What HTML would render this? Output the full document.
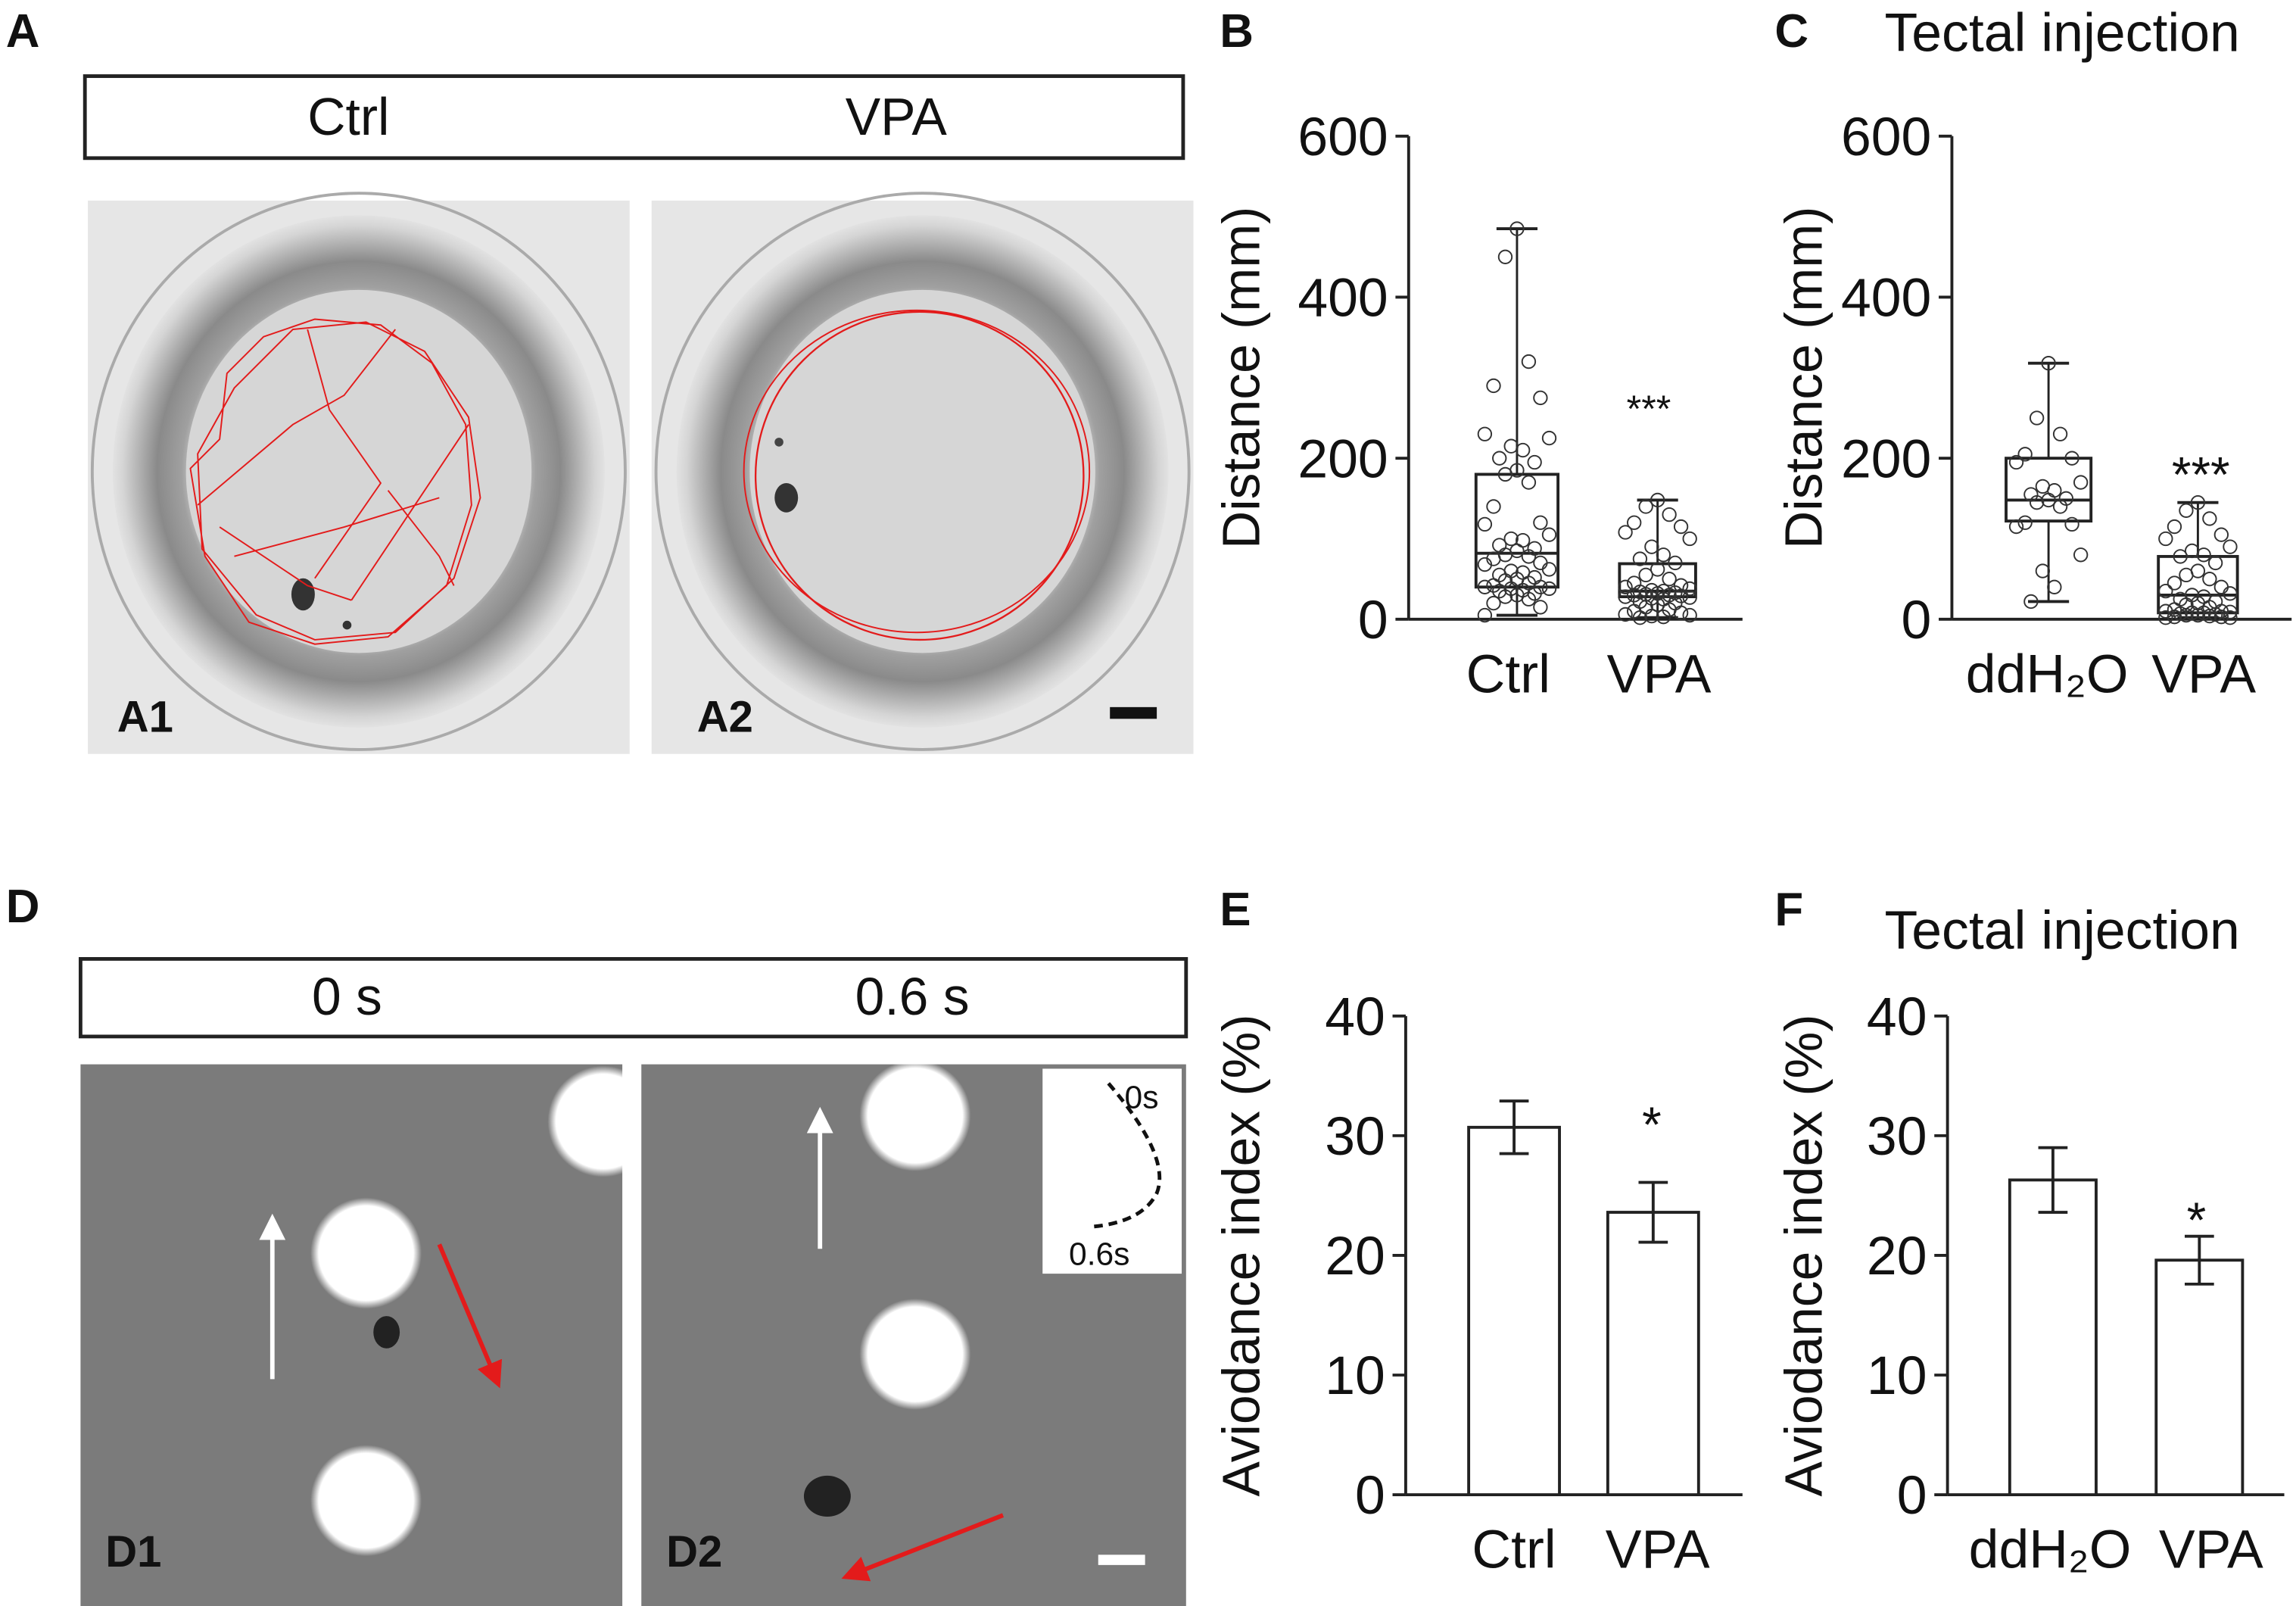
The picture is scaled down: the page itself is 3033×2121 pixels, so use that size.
<!DOCTYPE html>
<html><head><meta charset="utf-8"><style>
html,body{margin:0;padding:0;background:#fff}
svg{display:block}
text{font-family:"Liberation Sans",Arial,sans-serif;fill:#111}
</style></head><body>
<svg id="fig" width="3033" height="2121" viewBox="0 0 1568 1097" preserveAspectRatio="none" xmlns="http://www.w3.org/2000/svg">
<defs>
<radialGradient id="ringA" cx="50%" cy="50%" r="50%">
<stop offset="0" stop-color="#d8d8d8"/><stop offset="0.66" stop-color="#d2d2d2"/><stop offset="0.72" stop-color="#a0a0a0"/><stop offset="0.82" stop-color="#8a8a8a"/><stop offset="0.9" stop-color="#b5b5b5"/><stop offset="0.96" stop-color="#d5d5d5"/><stop offset="1" stop-color="#e2e2e2"/>
</radialGradient>
<radialGradient id="spot"><stop offset="0" stop-color="#fff"/><stop offset="0.85" stop-color="#fff"/><stop offset="1" stop-color="#fff" stop-opacity="0"/></radialGradient>
<marker id="arW" markerWidth="6" markerHeight="6" refX="3" refY="3" orient="auto"><path d="M0,0L6,3L0,6z" fill="#fff"/></marker>
<marker id="arR" markerWidth="6" markerHeight="6" refX="3" refY="3" orient="auto"><path d="M0,0L6,3L0,6z" fill="#e31b1b"/></marker>
</defs>

<!-- Panel A -->
<text x="4" y="32" font-size="32" font-weight="bold">A</text>
<rect x="58" y="52" width="750" height="56" fill="none" stroke="#222" stroke-width="2.5"/>
<text x="238" y="92" font-size="36" text-anchor="middle">Ctrl</text>
<text x="612" y="92" font-size="36" text-anchor="middle">VPA</text>
<g>
<rect x="60" y="137" width="370" height="378" fill="#e6e6e6"/>
<ellipse cx="245" cy="322" rx="182" ry="190" fill="none" stroke="#aaa" stroke-width="2"/>
<ellipse cx="245" cy="322" rx="168" ry="175" fill="url(#ringA)"/>
<ellipse cx="245" cy="322" rx="118" ry="124" fill="#d6d6d6"/>
<ellipse cx="207" cy="406" rx="8" ry="11" fill="#333"/>
<circle cx="237" cy="427" r="3" fill="#333"/>
<path d="M150,300 L155,255 L180,230 L215,218 L260,222 L295,248 L318,290 L322,345 L305,400 L265,435 L215,440 L170,425 L140,380 L130,320 Z M135,310 L160,265 L200,225 L250,220 L290,240 L320,285 L328,340 L310,395 L270,432 L215,437 L175,420 L138,375 Z M210,225 L225,280 L260,330 L215,395 M135,345 L200,290 L235,270 L270,225 M150,360 L210,400 L240,410 M265,335 L300,380 L310,400 M240,410 L320,290 M160,380 L235,360 L300,340" fill="none" stroke="#e31b1b" stroke-width="1"/>
<text x="80" y="500" font-size="30" font-weight="bold" fill="#111">A1</text>
</g>
<g>
<rect x="445" y="137" width="370" height="378" fill="#e6e6e6"/>
<ellipse cx="630" cy="322" rx="182" ry="190" fill="none" stroke="#aaa" stroke-width="2"/>
<ellipse cx="630" cy="322" rx="168" ry="175" fill="url(#ringA)"/>
<ellipse cx="630" cy="322" rx="118" ry="124" fill="#d6d6d6"/>
<ellipse cx="537" cy="340" rx="8" ry="10" fill="#333"/>
<circle cx="532" cy="302" r="3" fill="#444"/>
<ellipse cx="628" cy="325" rx="112" ry="112" fill="none" stroke="#e31b1b" stroke-width="1.2"/>
<ellipse cx="626" cy="322" rx="118" ry="110" fill="none" stroke="#e31b1b" stroke-width="1"/>
<text x="476" y="500" font-size="30" font-weight="bold" fill="#111">A2</text>
<rect x="758" y="483" width="32" height="8" fill="#111"/>
</g>

<!-- Panel D -->
<text x="4" y="630" font-size="32" font-weight="bold">D</text>
<rect x="55" y="655" width="755" height="53" fill="none" stroke="#222" stroke-width="2.5"/>
<text x="237" y="693" font-size="36" text-anchor="middle">0 s</text>
<text x="623" y="693" font-size="36" text-anchor="middle">0.6 s</text>
<g>
<rect x="55" y="727" width="370" height="370" fill="#7b7b7b"/>
<circle cx="412" cy="766" r="38" fill="url(#spot)"/>
<circle cx="250" cy="856" r="38" fill="url(#spot)"/>
<circle cx="250" cy="1025" r="38" fill="url(#spot)"/>
<ellipse cx="264" cy="910" rx="9" ry="11" fill="#222"/>
<line x1="186" y1="942" x2="186" y2="838" stroke="#fff" stroke-width="3" marker-end="url(#arW)"/>
<line x1="300" y1="850" x2="338" y2="940" stroke="#e31b1b" stroke-width="3" marker-end="url(#arR)"/>
<text x="72" y="1070" font-size="30" font-weight="bold" fill="#111">D1</text>
</g>
<g>
<rect x="438" y="727" width="372" height="370" fill="#7b7b7b"/>
<circle cx="625" cy="762" r="38" fill="url(#spot)"/>
<circle cx="625" cy="925" r="38" fill="url(#spot)"/>
<ellipse cx="565" cy="1022" rx="16" ry="14" fill="#222"/>
<line x1="560" y1="853" x2="560" y2="765" stroke="#fff" stroke-width="3" marker-end="url(#arW)"/>
<line x1="685" y1="1035" x2="583" y2="1075" stroke="#e31b1b" stroke-width="3" marker-end="url(#arR)"/>
<rect x="712" y="730" width="95" height="140" fill="#fff"/>
<path d="M757,740 Q800,790 790,815 Q780,835 745,838" fill="none" stroke="#111" stroke-width="2.5" stroke-dasharray="6,4"/>
<text x="768" y="757" font-size="22" fill="#111">0s</text>
<text x="730" y="864" font-size="22" fill="#111">0.6s</text>
<text x="455" y="1070" font-size="30" font-weight="bold" fill="#111">D2</text>
<rect x="750" y="1062" width="32" height="7" fill="#fff"/>
</g>

<g id="charts"></g>
</svg>
<script>
// ---- Data ----
var distCats = ['Ctrl', 'VPA'];
var distInjCats = ['ddH\u2082O', 'VPA'];
var ctrlMin=5, ctrlQ1=40, ctrlMed=82, ctrlQ3=180, ctrlMax=485;
var vpaMin=2, vpaQ1=28, vpaMed=35, vpaQ3=69, vpaMax=148;
var ddhMin=22, ddhQ1=122, ddhMed=148, ddhQ3=200, ddhMax=318;
var vpaInjMin=2, vpaInjQ1=8, vpaInjMed=30, vpaInjQ3=78, vpaInjMax=145;
var ctrlPts = [485,450,320,290,275,230,225,215,210,200,195,185,180,170,140,120,118,105,100,98,92,88,85,80,78,75,70,68,62,60,58,55,52,50,48,45,42,40,40,38,38,36,35,32,30,28,25,20,15,5];
var vpaPts = [148,140,130,120,115,108,100,90,80,75,70,62,55,50,45,42,40,38,36,35,34,33,32,31,30,30,29,28,27,26,25,22,20,18,15,12,10,8,6,5,4,3,2];
var ddhPts = [318,250,230,205,200,195,170,165,160,155,150,148,145,140,120,118,115,80,60,40,22];
var vpaInjPts = [145,135,125,115,105,100,90,85,80,78,70,60,55,50,45,40,35,32,30,28,25,22,20,18,15,12,10,10,9,8,8,7,6,5,5,4,3,3,2,2];
var distTicks = [0,200,400,600];
var avoidCats = ['Ctrl','VPA'];
var avoidVals = [30.7, 23.6];
var avoidErr = [2.2, 2.5];
var avoidInjCats = ['ddH\u2082O','VPA'];
var avoidInjVals = [26.3, 19.6];
var avoidInjErr = [2.7, 2.0];
var avoidTicks = [0,10,20,30,40];

var NS='http://www.w3.org/2000/svg';
var root=document.getElementById('charts');
function mk(tag,attrs,parent){var e=document.createElementNS(NS,tag);for(var k in attrs)e.setAttribute(k,attrs[k]);(parent||root).appendChild(e);return e;}
function txt(s,x,y,size,anchor,parent,extra){var t=mk('text',{x:x,y:y,'font-size':size,'text-anchor':anchor||'middle'},parent);if(extra)for(var k in extra)t.setAttribute(k,extra[k]);t.textContent=s;return t;}

function axes(g,x0,x1,yTop,yBot,maxV,ticks,title,titleX,cats,catX){
  var ys=function(v){return yBot-(v/maxV)*(yBot-yTop);};
  var ax=mk('line',{x1:x0,y1:yTop,x2:x0,y2:yBot,stroke:'#222','stroke-width':2},g);
  
  
  var bx=mk('line',{x1:x0,y1:yBot,x2:x1,y2:yBot,stroke:'#222','stroke-width':2},g);
  
  
  ticks.forEach(function(t){
    mk('line',{x1:x0-9,y1:ys(t),x2:x0,y2:ys(t),stroke:'#222','stroke-width':2},g);
    var l=txt(String(t),x0-14,ys(t)+13,37,'end',g);
    
    
  });
  var yc=(yTop+yBot)/2;
  var tt=txt(title,titleX,yc,36,'middle',g,{transform:'rotate(-90 '+titleX+' '+yc+')'});
  
  
  cats.forEach(function(c,i){
    var cl=txt(c,catX[i],yBot+50,37,'middle',g);
    
    
  });
  return ys;
}

function box(g,ys,cx,w,mn,q1,md,q3,mx,pts){
  var bg=mk('g',{},g);
  
  
  mk('line',{x1:cx,y1:ys(mx),x2:cx,y2:ys(mn),stroke:'#222','stroke-width':1.5},bg);
  mk('line',{x1:cx-14,y1:ys(mx),x2:cx+14,y2:ys(mx),stroke:'#222','stroke-width':2},bg);
  mk('line',{x1:cx-14,y1:ys(mn),x2:cx+14,y2:ys(mn),stroke:'#222','stroke-width':2},bg);
  mk('rect',{x:cx-w/2,y:ys(q3),width:w,height:ys(q1)-ys(q3),fill:'#fff',stroke:'#222','stroke-width':2},bg);
  mk('line',{x1:cx-w/2,y1:ys(md),x2:cx+w/2,y2:ys(md),stroke:'#222','stroke-width':2},bg);
  var offs=[0,-8,8,-16,16,-22,22,-4,4,-12,12];
  pts.forEach(function(v,i){
    var c=mk('circle',{cx:cx+offs[i%offs.length],cy:ys(v),r:4.5,fill:'none',stroke:'#333','stroke-width':1},bg);
    
    
  });
}

function bars(g,ys,cxs,w,vals,errs){
  vals.forEach(function(v,i){
    var r=mk('rect',{x:cxs[i]-w/2,y:ys(v),width:w,height:ys(0)-ys(v),fill:'#fff',stroke:'#222','stroke-width':2},g);
    
    
    var e=mk('path',{d:'M'+cxs[i]+','+ys(v-errs[i])+'V'+ys(v+errs[i])+'M'+(cxs[i]-10)+','+ys(v+errs[i])+'h20M'+(cxs[i]-10)+','+ys(v-errs[i])+'h20',fill:'none',stroke:'#222','stroke-width':2},g);
    
    
  });
}
function label(s,x,y,name){var t=txt(s,x,y,32,'start',root,{'font-weight':'bold'});}
function title(s,x,y){var t=txt(s,x,y,37,'start');}
function star(s,x,y,sz){var t=txt(s,x,y,sz,'middle');}

// Panel B
label('B',833,32,'panel-b-label');
var gB=mk('g',{});
var ysB=axes(gB,962,1190,93,423,600,distTicks,'Distance (mm)',860,distCats,[1030,1133]);
box(gB,ysB,1036,56,ctrlMin,ctrlQ1,ctrlMed,ctrlQ3,ctrlMax,ctrlPts);
box(gB,ysB,1132,52,vpaMin,vpaQ1,vpaMed,vpaQ3,vpaMax,vpaPts);
star('***',1126,288,26);
// Panel C
label('C',1212,32,'panel-c-label');
title('Tectal injection',1287,35);
var gC=mk('g',{});
var ysC=axes(gC,1333,1565,93,423,600,distTicks,'Distance (mm)',1244,distInjCats,[1398,1505]);
box(gC,ysC,1399,58,ddhMin,ddhQ1,ddhMed,ddhQ3,ddhMax,ddhPts);
box(gC,ysC,1501,54,vpaInjMin,vpaInjQ1,vpaInjMed,vpaInjQ3,vpaInjMax,vpaInjPts);
star('***',1503,336,34);
// Panel E
label('E',833,632,'panel-e-label');
var gE=mk('g',{});
var ysE=axes(gE,960,1190,694,1021,40,avoidTicks,'Aviodance index (%)',860,avoidCats,[1034,1132]);
bars(gE,ysE,[1034,1129],62,avoidVals,avoidErr);
star('*',1128,780,34);
// Panel F
label('F',1212,632,'panel-f-label');
title('Tectal injection',1287,648);
var gF=mk('g',{});
var ysF=axes(gF,1330,1560,694,1021,40,avoidTicks,'Aviodance index (%)',1244,avoidInjCats,[1400,1510]);
bars(gF,ysF,[1402,1502],59,avoidInjVals,avoidInjErr);
star('*',1500,845,34);
</script>
</body></html>
